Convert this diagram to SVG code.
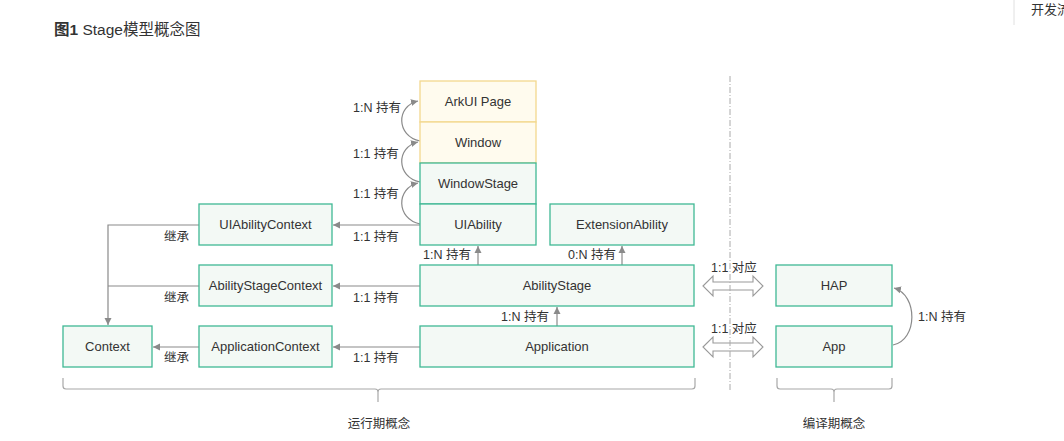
<svg xmlns="http://www.w3.org/2000/svg" width="1064" height="441" viewBox="0 0 1064 441">
<style>
text{font-family:"Liberation Sans","Noto Sans CJK SC",sans-serif;fill:#333;}
.t{font-size:13px;text-anchor:middle;}
.l{font-size:12.5px;}
.g rect{fill:#f3f9f5;stroke:#3fb894;stroke-width:1.3;}
.y rect{fill:#fffbee;stroke:#f3d88e;stroke-width:1.3;}
.c{fill:none;stroke:#8a8a8a;stroke-width:1.2;}
.a{marker-end:url(#ah);}
.br{fill:none;stroke:#a8a8a8;stroke-width:1.2;}
.dbl{fill:#fff;stroke:#9a9a9a;stroke-width:1.1;}
</style>
<defs>
<marker id="ah" markerWidth="8" markerHeight="8" refX="7" refY="4" orient="auto" markerUnits="userSpaceOnUse">
<path d="M0,0.5 L7,4 L0,7.5 Z" fill="#8a8a8a"/>
</marker>
</defs>
<rect width="1064" height="441" fill="#fff"/>
<text x="54" y="35" style="font-size:15.5px"><tspan font-weight="bold">图1</tspan> Stage模型概念图</text>
<line x1="1014" y1="0" x2="1014" y2="25" stroke="#e0e0e0"/>
<text x="1031" y="14" style="font-size:13px">开发流</text>

<g id="connectors">
<path class="c a" d="M420,141 C396,136 396,106 418,101"/>
<path class="c a" d="M420,182 C396,177 396,147 418,142"/>
<path class="c a" d="M420,224 C396,219 396,188 418,183"/>
<line class="c a" x1="420" y1="225" x2="333" y2="225"/>
<line class="c a" x1="420" y1="286" x2="333" y2="286"/>
<line class="c a" x1="420" y1="347" x2="333" y2="347"/>
<path class="c a" d="M199,225 L108,225 L108,325"/>
<line class="c" x1="199" y1="286" x2="108" y2="286"/>
<line class="c a" x1="199" y1="347" x2="153" y2="347"/>
<line class="c a" x1="478" y1="265" x2="478" y2="246"/>
<line class="c a" x1="622" y1="265" x2="622" y2="246"/>
<line class="c a" x1="557" y1="326" x2="557" y2="307"/>
<path class="c a" d="M893,345 C918,340 918,295 894,288"/>
<polygon class="dbl" points="703,286 713,276 713,282 753,282 753,276 763,286 753,296 753,290 713,290 713,296"/>
<polygon class="dbl" points="703,347 713,337 713,343 753,343 753,337 763,347 753,357 753,351 713,351 713,357"/>
<line x1="730" y1="76" x2="730" y2="392" stroke="#aaa" stroke-width="1" stroke-dasharray="6,2,1,2"/>
<path class="br" d="M63,378 L63,386 Q63,389 66,389 L375,389 Q378,389 378,392 L378,402 M378,392 Q378,389 381,389 L692,389 Q695,389 695,386 L695,378"/>
<path class="br" d="M777,378 L777,386 Q777,389 780,389 L831,389 Q834,389 834,392 L834,402 M834,392 Q834,389 837,389 L889,389 Q892,389 892,386 L892,378"/>
</g>

<g class="l">
<text x="353" y="112">1:N 持有</text>
<text x="353" y="158">1:1 持有</text>
<text x="353" y="198">1:1 持有</text>
<text x="353" y="241">1:1 持有</text>
<text x="353" y="302">1:1 持有</text>
<text x="353" y="362">1:1 持有</text>
<text x="164" y="241">继承</text>
<text x="164" y="302">继承</text>
<text x="164" y="362">继承</text>
<text x="423" y="259">1:N 持有</text>
<text x="568" y="259">0:N 持有</text>
<text x="501" y="321">1:N 持有</text>
<text x="711" y="272">1:1 对应</text>
<text x="711" y="333">1:1 对应</text>
<text x="918" y="321">1:N 持有</text>
<text x="379" y="428" text-anchor="middle">运行期概念</text>
<text x="834" y="428" text-anchor="middle">编译期概念</text>
</g>

<g id="arkui" class="y"><rect x="420" y="81" width="116" height="41"/><text class="t" x="478" y="106">ArkUI Page</text></g>
<g id="window" class="y"><rect x="420" y="122" width="116" height="41"/><text class="t" x="478" y="147">Window</text></g>
<g id="windowstage" class="g"><rect x="420" y="163" width="116" height="41"/><text class="t" x="478" y="188">WindowStage</text></g>
<g id="uiability" class="g"><rect x="420" y="204" width="116" height="41"/><text class="t" x="478" y="229">UIAbility</text></g>
<g id="extensionability" class="g"><rect x="550" y="204" width="144" height="41"/><text class="t" x="622" y="229">ExtensionAbility</text></g>
<g id="abilitystage" class="g"><rect x="420" y="265" width="274" height="41"/><text class="t" x="557" y="290">AbilityStage</text></g>
<g id="application" class="g"><rect x="420" y="326" width="274" height="41"/><text class="t" x="557" y="351">Application</text></g>
<g id="uiabilitycontext" class="g"><rect x="199" y="204" width="133" height="41"/><text class="t" x="265.5" y="229">UIAbilityContext</text></g>
<g id="abilitystagecontext" class="g"><rect x="199" y="265" width="133" height="41"/><text class="t" x="265.5" y="290">AbilityStageContext</text></g>
<g id="applicationcontext" class="g"><rect x="199" y="326" width="133" height="41"/><text class="t" x="265.5" y="351">ApplicationContext</text></g>
<g id="context" class="g"><rect x="63" y="326" width="89" height="41"/><text class="t" x="107.5" y="351">Context</text></g>
<g id="hap" class="g"><rect x="776" y="265" width="116" height="41"/><text class="t" x="834" y="290">HAP</text></g>
<g id="app" class="g"><rect x="776" y="326" width="116" height="41"/><text class="t" x="834" y="351">App</text></g>
</svg>
